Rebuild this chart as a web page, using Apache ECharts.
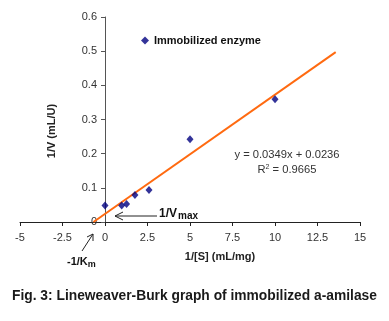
<!DOCTYPE html>
<html><head><meta charset="utf-8">
<script src="https://cdn.jsdelivr.net/npm/echarts@6/dist/echarts.min.js"></script>
<style>html,body{margin:0;padding:0;background:#fff}#c{width:389px;height:321px}</style>
</head><body><div id="c"></div>
<script>
var invS = [0, 0.98, 1.27, 1.76, 2.59, 5, 10];
var invV = [0.048, 0.048, 0.053, 0.079, 0.094, 0.242, 0.359];
var trendX = [-0.68, 13.57];
var trendY = [0, 0.497];
var xTicks = [-5, 15, 2.5];
var yTicks = [0, 0.6, 0.1];
var seriesName = 'Immobilized enzyme';
var equation = 'y = 0.0349x + 0.0236';
var rsq = '0.9665';

var pts = invS.map(function(x,i){return [x, invV[i]];});
var trend = trendX.map(function(x,i){return [x, trendY[i]];});
var narrow = '"Liberation Sans Narrow","Arial Narrow","Liberation Sans",Arial,sans-serif';
var sans = '"Liberation Sans",Arial,sans-serif';

var chart = echarts.init(document.getElementById('c'));
var gridLeft = 20, gridRight = 29;
var plotW = 389 - gridLeft - gridRight;
var yAxisOffset = -plotW * (0 - xTicks[0]) / (xTicks[1] - xTicks[0]);
chart.setOption({
  animation:false,
  grid:{left:gridLeft,right:gridRight,top:17,bottom:99},
  legend:{data:[{name:seriesName,icon:'diamond'}],left:136,top:30,itemWidth:8,itemHeight:8,itemGap:6,
    textStyle:{fontFamily:narrow,fontWeight:'bold',fontSize:11,color:'#111'}},
  xAxis:{type:'value',min:xTicks[0],max:xTicks[1],interval:xTicks[2],
    axisLine:{onZero:false,lineStyle:{color:'#222',width:1}},
    axisTick:{show:true,length:4,lineStyle:{color:'#222'}},
    axisLabel:{margin:10,fontFamily:sans,fontSize:11,color:'#333'},
    splitLine:{show:false}},
  yAxis:{type:'value',min:yTicks[0],max:yTicks[1],interval:yTicks[2],position:'left',offset:yAxisOffset,
    axisLine:{show:true,onZero:false,lineStyle:{color:'#555',width:1}},
    axisTick:{show:true,length:4,lineStyle:{color:'#555'}},
    axisLabel:{margin:8,fontFamily:sans,fontSize:11,color:'#333'},
    splitLine:{show:false}},
  series:[
    {name:seriesName,type:'scatter',data:pts,symbol:'diamond',symbolSize:[7,8],
     itemStyle:{color:'#000080'},z:5},
    {name:'trend',type:'line',data:trend,symbol:'none',lineStyle:{color:'#ff6a10',width:2},z:3}
  ],
  graphic:[
    {type:'text',x:52,y:131,rotation:Math.PI/2,style:{text:'1/V (mL/U)',fontFamily:narrow,fontWeight:'bold',fontSize:11,fill:'#222',align:'center',verticalAlign:'middle'}},
    {type:'text',x:220,y:257,style:{text:'1/[S] (mL/mg)',fontFamily:narrow,fontWeight:'bold',fontSize:11,fill:'#222',align:'center',verticalAlign:'middle'}},
    {type:'text',x:287,y:155,style:{text:equation,fontFamily:sans,fontSize:11.2,fill:'#333',align:'center',verticalAlign:'middle'}},
    {type:'text',x:287,y:170,style:{text:'{a|R}{s|2}{a| = '+rsq+'}',align:'center',verticalAlign:'middle',
      rich:{a:{fontFamily:sans,fontSize:11.2,fill:'#333'},s:{fontFamily:sans,fontSize:7,fill:'#333',verticalAlign:'top',padding:[0,0,6,0]}}}},
    {type:'text',x:159,y:214,style:{text:'{a|1/V}{s|max}',verticalAlign:'middle',
      rich:{a:{fontFamily:narrow,fontWeight:'bold',fontSize:12,fill:'#111'},s:{fontFamily:narrow,fontWeight:'bold',fontSize:10,fill:'#111',padding:[5,0,0,1]}}}},
    {type:'text',x:67,y:262,style:{text:'{a|-1/K}{s|m}',verticalAlign:'middle',
      rich:{a:{fontFamily:narrow,fontWeight:'bold',fontSize:11,fill:'#111'},s:{fontFamily:narrow,fontWeight:'bold',fontSize:9,fill:'#111',padding:[5,0,0,0]}}}},
    {type:'polyline',shape:{points:[[157,216],[115,216]]},style:{stroke:'#222',lineWidth:1}},
    {type:'polyline',shape:{points:[[123,212],[115,216],[123,220]]},style:{stroke:'#222',lineWidth:1,fill:null}},
    {type:'polyline',shape:{points:[[82,251],[93,234]]},style:{stroke:'#222',lineWidth:1}},
    {type:'polyline',shape:{points:[[87,237],[93,234],[93,241]]},style:{stroke:'#222',lineWidth:1,fill:null}},
    {type:'text',x:12,y:296,style:{text:'Fig. 3: Lineweaver-Burk graph of immobilized a-amilase',fontFamily:sans,fontWeight:'bold',fontSize:13.8,fill:'#1a1a1a',verticalAlign:'middle'}}
  ]
});
</script></body></html>
